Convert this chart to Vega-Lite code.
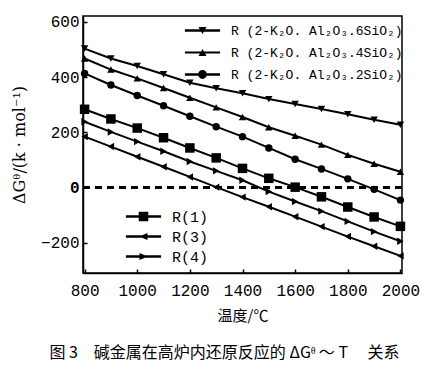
{
  "$schema": "https://vega.github.io/schema/vega-lite/v6.json",
  "width": 319,
  "height": 257,
  "autosize": {"type": "none"},
  "padding": {"left": 83, "top": 16, "right": 21, "bottom": 107},
  "background": "white",
  "config": {
    "view": {"stroke": "black", "strokeWidth": 1.5},
    "axis": {"domainColor": "black", "tickColor": "black", "labelColor": "black", "titleColor": "black", "grid": false, "domainWidth": 1.5, "tickWidth": 1.5}
  },
  "title": {"text": "图 3　碱金属在高炉内还原反应的 ΔGᶿ ～ T　 关系", "orient": "bottom", "anchor": "middle", "font": "Noto Sans CJK SC", "fontSize": 16, "fontWeight": "normal", "color": "black", "offset": 22, "dx": -18},
  "data": {"values": [
    {"T": 800, "g": 503, "s": "R (2-K₂O. Al₂O₃.6SiO₂)"},
    {"T": 900, "g": 467, "s": "R (2-K₂O. Al₂O₃.6SiO₂)"},
    {"T": 1000, "g": 440, "s": "R (2-K₂O. Al₂O₃.6SiO₂)"},
    {"T": 1100, "g": 410, "s": "R (2-K₂O. Al₂O₃.6SiO₂)"},
    {"T": 1200, "g": 379, "s": "R (2-K₂O. Al₂O₃.6SiO₂)"},
    {"T": 1300, "g": 359, "s": "R (2-K₂O. Al₂O₃.6SiO₂)"},
    {"T": 1400, "g": 341, "s": "R (2-K₂O. Al₂O₃.6SiO₂)"},
    {"T": 1500, "g": 320, "s": "R (2-K₂O. Al₂O₃.6SiO₂)"},
    {"T": 1600, "g": 302, "s": "R (2-K₂O. Al₂O₃.6SiO₂)"},
    {"T": 1700, "g": 284, "s": "R (2-K₂O. Al₂O₃.6SiO₂)"},
    {"T": 1800, "g": 265, "s": "R (2-K₂O. Al₂O₃.6SiO₂)"},
    {"T": 1900, "g": 245, "s": "R (2-K₂O. Al₂O₃.6SiO₂)"},
    {"T": 2000, "g": 227, "s": "R (2-K₂O. Al₂O₃.6SiO₂)"},
    {"T": 800, "g": 467, "s": "R (2-K₂O. Al₂O₃.4SiO₂)"},
    {"T": 900, "g": 427, "s": "R (2-K₂O. Al₂O₃.4SiO₂)"},
    {"T": 1000, "g": 395, "s": "R (2-K₂O. Al₂O₃.4SiO₂)"},
    {"T": 1100, "g": 360, "s": "R (2-K₂O. Al₂O₃.4SiO₂)"},
    {"T": 1200, "g": 325, "s": "R (2-K₂O. Al₂O₃.4SiO₂)"},
    {"T": 1300, "g": 290, "s": "R (2-K₂O. Al₂O₃.4SiO₂)"},
    {"T": 1400, "g": 255, "s": "R (2-K₂O. Al₂O₃.4SiO₂)"},
    {"T": 1500, "g": 218, "s": "R (2-K₂O. Al₂O₃.4SiO₂)"},
    {"T": 1600, "g": 187, "s": "R (2-K₂O. Al₂O₃.4SiO₂)"},
    {"T": 1700, "g": 155, "s": "R (2-K₂O. Al₂O₃.4SiO₂)"},
    {"T": 1800, "g": 118, "s": "R (2-K₂O. Al₂O₃.4SiO₂)"},
    {"T": 1900, "g": 86, "s": "R (2-K₂O. Al₂O₃.4SiO₂)"},
    {"T": 2000, "g": 57, "s": "R (2-K₂O. Al₂O₃.4SiO₂)"},
    {"T": 800, "g": 413, "s": "R (2-K₂O. Al₂O₃.2SiO₂)"},
    {"T": 900, "g": 371, "s": "R (2-K₂O. Al₂O₃.2SiO₂)"},
    {"T": 1000, "g": 333, "s": "R (2-K₂O. Al₂O₃.2SiO₂)"},
    {"T": 1100, "g": 296, "s": "R (2-K₂O. Al₂O₃.2SiO₂)"},
    {"T": 1200, "g": 258, "s": "R (2-K₂O. Al₂O₃.2SiO₂)"},
    {"T": 1300, "g": 220, "s": "R (2-K₂O. Al₂O₃.2SiO₂)"},
    {"T": 1400, "g": 184, "s": "R (2-K₂O. Al₂O₃.2SiO₂)"},
    {"T": 1500, "g": 143, "s": "R (2-K₂O. Al₂O₃.2SiO₂)"},
    {"T": 1600, "g": 102, "s": "R (2-K₂O. Al₂O₃.2SiO₂)"},
    {"T": 1700, "g": 67, "s": "R (2-K₂O. Al₂O₃.2SiO₂)"},
    {"T": 1800, "g": 31, "s": "R (2-K₂O. Al₂O₃.2SiO₂)"},
    {"T": 1900, "g": -7, "s": "R (2-K₂O. Al₂O₃.2SiO₂)"},
    {"T": 2000, "g": -46, "s": "R (2-K₂O. Al₂O₃.2SiO₂)"},
    {"T": 800, "g": 283, "s": "R(1)"},
    {"T": 900, "g": 248, "s": "R(1)"},
    {"T": 1000, "g": 215, "s": "R(1)"},
    {"T": 1100, "g": 180, "s": "R(1)"},
    {"T": 1200, "g": 143, "s": "R(1)"},
    {"T": 1300, "g": 107, "s": "R(1)"},
    {"T": 1400, "g": 69, "s": "R(1)"},
    {"T": 1500, "g": 33, "s": "R(1)"},
    {"T": 1600, "g": 1, "s": "R(1)"},
    {"T": 1700, "g": -34, "s": "R(1)"},
    {"T": 1800, "g": -71, "s": "R(1)"},
    {"T": 1900, "g": -107, "s": "R(1)"},
    {"T": 2000, "g": -141, "s": "R(1)"},
    {"T": 800, "g": 184, "s": "R(3)"},
    {"T": 900, "g": 148, "s": "R(3)"},
    {"T": 1000, "g": 111, "s": "R(3)"},
    {"T": 1100, "g": 75, "s": "R(3)"},
    {"T": 1200, "g": 38, "s": "R(3)"},
    {"T": 1300, "g": 1, "s": "R(3)"},
    {"T": 1400, "g": -35, "s": "R(3)"},
    {"T": 1500, "g": -70, "s": "R(3)"},
    {"T": 1600, "g": -106, "s": "R(3)"},
    {"T": 1700, "g": -142, "s": "R(3)"},
    {"T": 1800, "g": -178, "s": "R(3)"},
    {"T": 1900, "g": -213, "s": "R(3)"},
    {"T": 2000, "g": -248, "s": "R(3)"},
    {"T": 800, "g": 238, "s": "R(4)"},
    {"T": 900, "g": 201, "s": "R(4)"},
    {"T": 1000, "g": 166, "s": "R(4)"},
    {"T": 1100, "g": 131, "s": "R(4)"},
    {"T": 1200, "g": 94, "s": "R(4)"},
    {"T": 1300, "g": 60, "s": "R(4)"},
    {"T": 1400, "g": 26, "s": "R(4)"},
    {"T": 1500, "g": -15, "s": "R(4)"},
    {"T": 1600, "g": -51, "s": "R(4)"},
    {"T": 1700, "g": -86, "s": "R(4)"},
    {"T": 1800, "g": -123, "s": "R(4)"},
    {"T": 1900, "g": -160, "s": "R(4)"},
    {"T": 2000, "g": -195, "s": "R(4)"}
  ]},
  "layer": [
    {
      "mark": {"type": "line", "color": "black", "strokeWidth": 2},
      "encoding": {
        "x": {"field": "T", "type": "quantitative", "scale": {"domain": [794, 2006], "nice": false, "zero": false},
          "axis": {"values": [800, 1000, 1200, 1400, 1600, 1800, 2000], "format": "d", "title": "温度/℃", "tickSize": -4, "labelPadding": 13, "labelFlush": true, "labelFlushOffset": -3, "labelFont": "Liberation Mono", "labelFontSize": 16, "titleFont": "Noto Sans CJK SC", "titleFontSize": 15, "titleFontWeight": "normal", "titlePadding": 10}},
        "y": {"field": "g", "type": "quantitative", "scale": {"domain": [-310, 621], "nice": false, "zero": false},
          "axis": {"values": [-200, -100, 0, 100, 200, 300, 400, 500, 600], "labelExpr": "datum.value % 200 === 0 ? datum.label : ''", "labelFontWeight": {"condition": {"test": "datum.value === 0", "value": "bold"}, "value": "normal"}, "title": "ΔGᶿ/(k · mol⁻¹)", "tickSize": -4, "labelPadding": 8, "labelFont": "Liberation Mono", "labelFontSize": 16, "titleFont": "DejaVu Serif", "titleFontSize": 16, "titleFontWeight": "normal", "titlePadding": 13}},
        "detail": {"field": "s", "type": "nominal"}
      }
    },
    {
      "data": {"values": [{"g": 0}]},
      "mark": {"type": "rule", "color": "black", "strokeWidth": 3, "strokeDash": [7, 5]},
      "encoding": {"y": {"field": "g", "type": "quantitative"}}
    },
    {
      "transform": [{"filter": {"field": "s", "oneOf": ["R (2-K₂O. Al₂O₃.6SiO₂)", "R (2-K₂O. Al₂O₃.4SiO₂)", "R (2-K₂O. Al₂O₃.2SiO₂)", "R(3)", "R(4)"]}}],
      "mark": {"type": "point", "filled": true, "color": "black", "opacity": 1, "size": 55},
      "encoding": {
        "x": {"field": "T", "type": "quantitative"},
        "y": {"field": "g", "type": "quantitative"},
        "shape": {"field": "s", "type": "nominal", "scale": {"domain": ["R (2-K₂O. Al₂O₃.6SiO₂)", "R (2-K₂O. Al₂O₃.4SiO₂)", "R (2-K₂O. Al₂O₃.2SiO₂)", "R(3)", "R(4)"], "range": ["triangle-down", "triangle-up", "circle", "triangle-left", "triangle-right"]}, "legend": null}
      }
    },
    {
      "transform": [{"filter": {"field": "s", "equal": "R(1)"}}],
      "mark": {"type": "point", "filled": true, "color": "black", "opacity": 1, "size": 90, "shape": "square"},
      "encoding": {
        "x": {"field": "T", "type": "quantitative"},
        "y": {"field": "g", "type": "quantitative"}
      }
    },
    {
      "transform": [{"filter": {"field": "s", "oneOf": ["R (2-K₂O. Al₂O₃.6SiO₂)", "R (2-K₂O. Al₂O₃.4SiO₂)", "R (2-K₂O. Al₂O₃.2SiO₂)"]}}],
      "mark": {"type": "point", "filled": true, "color": "black", "opacity": 0},
      "encoding": {
        "x": {"field": "T", "type": "quantitative"},
        "y": {"field": "g", "type": "quantitative"},
        "shape": {"field": "s", "type": "nominal",
          "scale": {"domain": ["R (2-K₂O. Al₂O₃.6SiO₂)", "R (2-K₂O. Al₂O₃.4SiO₂)", "R (2-K₂O. Al₂O₃.2SiO₂)"],
            "range": ["M-4.4,-0.33L4.4,-0.33L4.4,0.33L-4.4,0.33ZM-1,-0.9L1,-0.9L0,0.9Z", "M-4.4,-0.25L4.4,-0.25L4.4,0.25L-4.4,0.25ZM1,0.9L-1,0.9L0,-0.9Z", "M-4.4,-0.33L4.4,-0.33L4.4,0.33L-4.4,0.33ZM-1.1,0A1.1,1.1,0,1,1,1.1,0A1.1,1.1,0,1,1,-1.1,0Z"]},
          "legend": {"orient": "none", "legendX": 95, "legendY": 8, "title": null, "labelFont": "Liberation Mono", "labelFontSize": 13, "labelColor": "black", "labelLimit": 300, "symbolSize": 64, "symbolOffset": 18, "labelOffset": 22, "rowPadding": 8, "padding": 0,
            "symbolFillColor": "black", "symbolStrokeColor": "black", "symbolStrokeWidth": 0.5, "symbolOpacity": 1}}
      }
    },
    {
      "transform": [{"filter": {"field": "s", "oneOf": ["R(1)", "R(3)", "R(4)"]}}],
      "mark": {"type": "point", "filled": true, "color": "black", "opacity": 0},
      "encoding": {
        "x": {"field": "T", "type": "quantitative"},
        "y": {"field": "g", "type": "quantitative"},
        "shape": {"field": "s", "type": "nominal",
          "scale": {"domain": ["R(1)", "R(3)", "R(4)"],
            "range": ["M-4.4,-0.3L4.4,-0.3L4.4,0.3L-4.4,0.3ZM-1.2,-1.2L1.2,-1.2L1.2,1.2L-1.2,1.2Z", "M-4.4,-0.3L4.4,-0.3L4.4,0.3L-4.4,0.3ZM-1.1,0L1,-0.9L1,0.9Z", "M-4.4,-0.3L4.4,-0.3L4.4,0.3L-4.4,0.3ZM1.1,0L-1,0.9L-1,-0.9Z"]},
          "legend": {"orient": "none", "legendX": 20, "legendY": 193, "title": null, "labelFont": "Liberation Mono", "labelFontSize": 15, "labelColor": "black", "labelLimit": 300, "symbolSize": 64, "symbolOffset": 33, "labelOffset": 21, "rowPadding": 4, "padding": 0,
            "symbolFillColor": "black", "symbolStrokeColor": "black", "symbolStrokeWidth": 0.5, "symbolOpacity": 1}}
      }
    }
  ],
  "resolve": {"scale": {"shape": "independent"}, "legend": {"shape": "independent"}}
}
